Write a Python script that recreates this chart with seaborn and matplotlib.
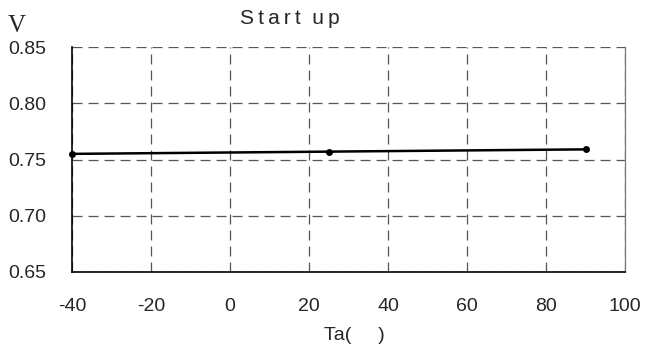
import matplotlib
matplotlib.use("Agg")
import matplotlib.pyplot as plt
import seaborn as sns
import pandas as pd

temps = [-40, 25, 90]
volts = [0.755, 0.757, 0.759]
xticks = [-40, -20, 0, 20, 40, 60, 80, 100]
yticks = [0.65, 0.70, 0.75, 0.80, 0.85]

sns.set_style("white")
plt.rcParams['font.family'] = ['Liberation Sans', 'DejaVu Sans']

df = pd.DataFrame({"Ta": temps, "V": volts})
fig = plt.figure(figsize=(6.46, 3.49), dpi=100)
ax = fig.add_axes([72/646, 1 - 272/349, (625-72)/646, (272-47)/349])

sns.lineplot(data=df, x="Ta", y="V", ax=ax, color="black", linewidth=1.8,
             marker="o", markersize=5, markeredgewidth=0, zorder=3, clip_on=False)

ax.set_xlim(-40, 100)
ax.set_ylim(0.65, 0.85)
ax.set_xticks(xticks)
ax.set_yticks(yticks)
ax.set_xticklabels([str(t) for t in xticks], fontsize=14)
ax.set_yticklabels([f"{t:.2f}" for t in yticks], fontsize=14)
ax.tick_params(axis='both', direction='in', length=4, width=1, color='black')
ax.tick_params(axis='y', pad=18.5)
ax.tick_params(axis='x', pad=18.5)

ax.grid(True, color='#555555', linestyle=(0, (8, 4.8)), linewidth=0.9)
for side in ['left', 'bottom']:
    ax.spines[side].set_color('black')
    ax.spines[side].set_linewidth(1.2)
ax.spines['top'].set_visible(False)
ax.spines['right'].set_color('#777777')
ax.spines['right'].set_linewidth(0.9)

ax.set_xlabel("")
ax.set_ylabel("")
fig.text(354/646, 1 - 336/349, "Ta(     )", fontsize=14, ha='center', va='center')
title = "\u2009".join("Start") + "  " + "\u2009".join("up")
fig.text(290/646, 1 - 18/349, title, fontsize=15, ha='center', va='center',
         family=['Liberation Sans', 'DejaVu Sans'])
fig.text(17/646, 1 - 26/349, "V", fontsize=18, ha='center', va='center', family='Liberation Serif')

fig.savefig("out.png", dpi=100)
